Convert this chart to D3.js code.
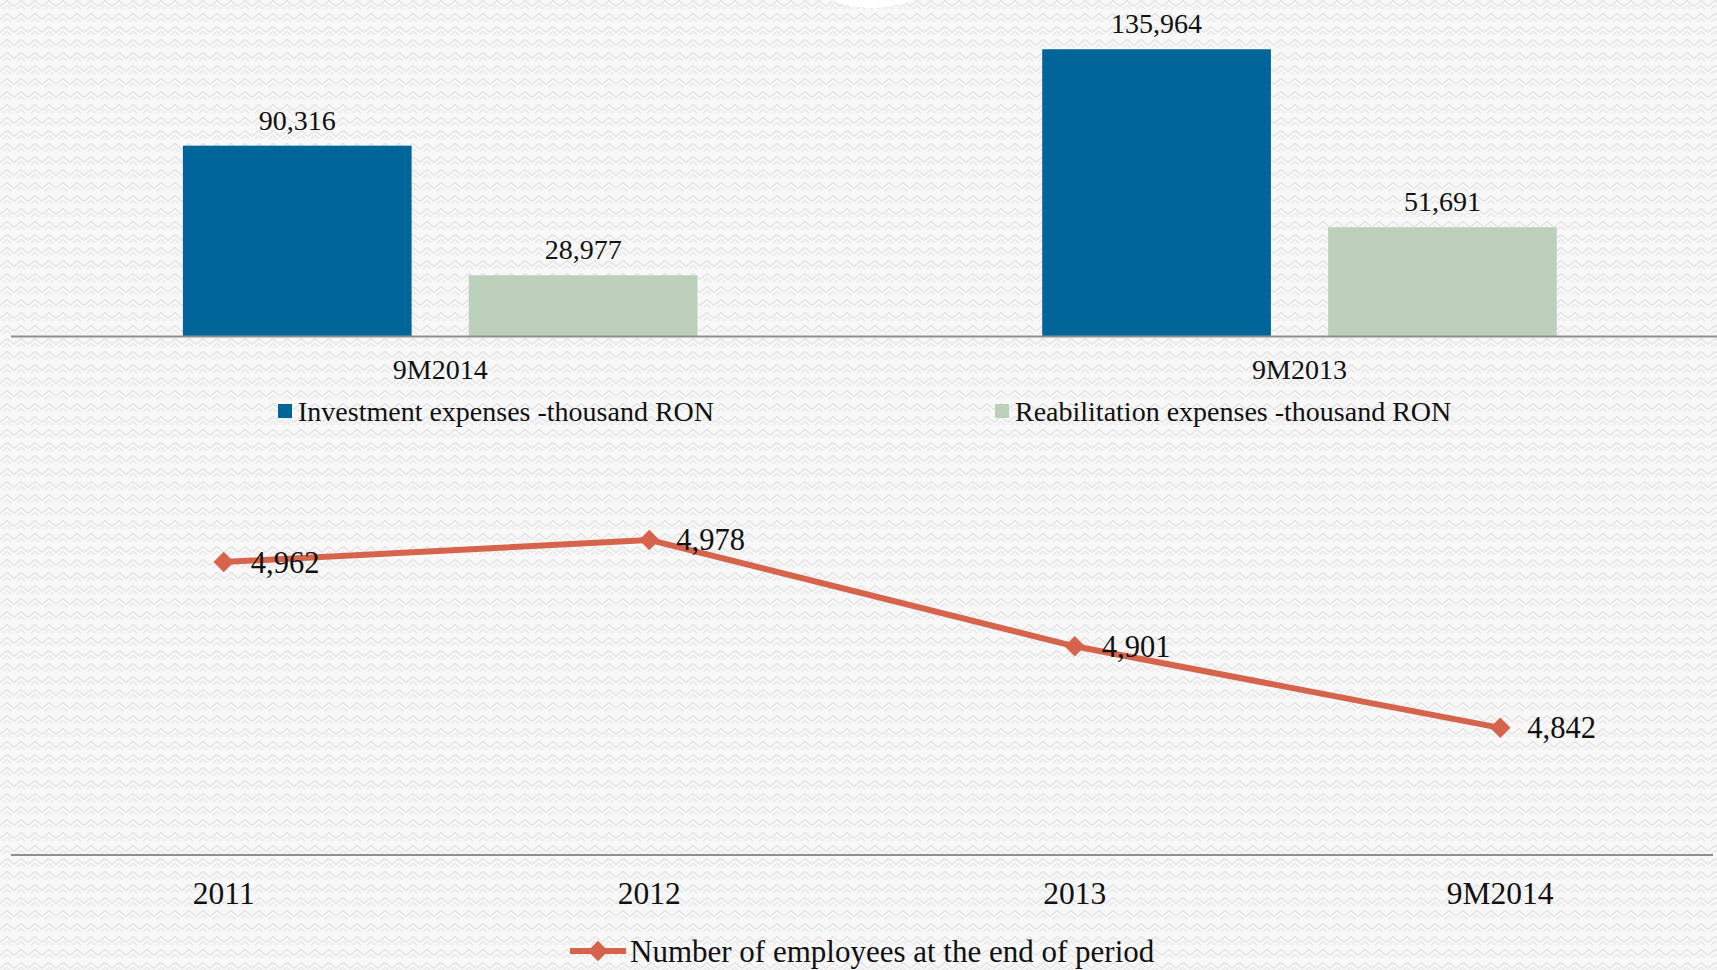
<!DOCTYPE html>
<html>
<head>
<meta charset="utf-8">
<script src="https://cdn.jsdelivr.net/npm/d3@7"></script>
<style>
  html, body { margin: 0; padding: 0; background: #f4f4f4; }
  svg { display: block; font-family: "Liberation Serif", serif; }
</style>
</head>
<body>
<svg id="chart" width="1717" height="970"></svg>
<script>
// bar chart data
const barGroups = ['9M2014', '9M2013'];
const barSeries = ['Investment expenses -thousand RON', 'Reabilitation expenses -thousand RON'];
const investment = [90316, 135964];
const reabilitation = [28977, 51691];

// line chart data
const periods = ['2011', '2012', '2013', '9M2014'];
const employees = [4962, 4978, 4901, 4842];
const lineName = 'Number of employees at the end of period';

const COLORS = { inv: '#006699', reab: '#bdd0bb', line: '#d6634b', axis: '#8e8e8e', text: '#111' };
const fmt = d3.format(',');

const W = 1717, H = 970;
const svg = d3.select('#chart');

/* background pattern */
const defs = svg.append('defs');
const pat = defs.append('pattern').attr('id', 'bgpat').attr('patternUnits', 'userSpaceOnUse')
  .attr('width', 14).attr('height', 13);
pat.append('rect').attr('width', 14).attr('height', 13).attr('fill', '#f8f8f8');
pat.append('path').attr('d', 'M0,6.5 L7,0.5 L14,6.5').attr('fill', 'none').attr('stroke', '#e5e5e5').attr('stroke-width', 1.5);
pat.append('path').attr('d', 'M3,9 L7,5.3 L11,9').attr('fill', 'none').attr('stroke', '#e8e8e8').attr('stroke-width', 1.3);
svg.append('rect').attr('width', W).attr('height', H).attr('fill', 'url(#bgpat)');
svg.append('circle').attr('cx', 872).attr('cy', -104).attr('r', 112).attr('fill', '#fff');

/* ─── Bar chart ─── */
const x0 = d3.scaleBand().domain(barGroups).range([10.6, 1729.2]);
const x1 = d3.scaleBand().domain(barSeries).range([172.3, 686.9]).paddingInner(0.2);
const yBar = d3.scaleLinear().domain([0, 140000]).range([336.5, 40.7]);

const barRows = barGroups.map((g, i) => ({ group: g, values: [
  { key: barSeries[0], v: investment[i], color: COLORS.inv },
  { key: barSeries[1], v: reabilitation[i], color: COLORS.reab },
]}));

const bg = svg.append('g');
const grp = bg.selectAll('g.grp').data(barRows).join('g')
  .attr('transform', d => `translate(${x0(d.group)},0)`);
grp.selectAll('rect').data(d => d.values).join('rect')
  .attr('x', d => x1(d.key)).attr('width', x1.bandwidth())
  .attr('y', d => yBar(d.v)).attr('height', d => yBar(0) - yBar(d.v))
  .attr('fill', d => d.color);
grp.selectAll('text.val').data(d => d.values).join('text').attr('class', 'val')
  .attr('x', d => x1(d.key) + x1.bandwidth() / 2).attr('y', d => yBar(d.v) - 16)
  .attr('text-anchor', 'middle').attr('font-size', 28).attr('fill', COLORS.text)
  .text(d => fmt(d.v));

bg.append('line').attr('x1', 11).attr('x2', W).attr('y1', yBar(0)).attr('y2', yBar(0))
  .attr('stroke', COLORS.axis).attr('stroke-width', 2);
bg.selectAll('text.cat').data(barGroups).join('text').attr('class', 'cat')
  .attr('x', d => x0(d) + x0.bandwidth() / 2).attr('y', 379)
  .attr('text-anchor', 'middle').attr('font-size', 28).attr('fill', COLORS.text).text(d => d);

// bar legend
const barLegendX = [278, 995];
const bl = bg.selectAll('g.leg').data(barSeries).join('g').attr('class', 'leg')
  .attr('transform', (d, i) => `translate(${barLegendX[i]},404)`);
bl.append('rect').attr('width', 14).attr('height', 14).attr('fill', (d, i) => i === 0 ? COLORS.inv : COLORS.reab);
bl.append('text').attr('x', 20).attr('y', 16.5).attr('font-size', 28).attr('fill', COLORS.text).text(d => d);

/* ─── Line chart ─── */
const xLine = d3.scalePoint().domain(periods).range([11, 1713]).padding(0.5);
const yLine = d3.scaleLinear().domain([4750, 5050]).range([855, 440.4]);
const pts = periods.map((p, i) => ({ p, v: employees[i] }));

const lg = svg.append('g');
lg.append('line').attr('x1', 11).attr('x2', 1713).attr('y1', yLine(4750)).attr('y2', yLine(4750))
  .attr('stroke', COLORS.axis).attr('stroke-width', 2);
lg.selectAll('text.cat').data(periods).join('text').attr('class', 'cat')
  .attr('x', d => xLine(d)).attr('y', 904)
  .attr('text-anchor', 'middle').attr('font-size', 31.5).attr('fill', COLORS.text).text(d => d);

lg.append('path').datum(pts)
  .attr('d', d3.line().x(d => xLine(d.p)).y(d => yLine(d.v)))
  .attr('fill', 'none').attr('stroke', COLORS.line).attr('stroke-width', 6).attr('stroke-linejoin', 'round');

const diamond = d3.symbol().type(d3.symbolSquare).size(210);
lg.selectAll('path.mk').data(pts).join('path').attr('class', 'mk')
  .attr('d', diamond)
  .attr('transform', d => `translate(${xLine(d.p)},${yLine(d.v)}) rotate(45)`)
  .attr('fill', COLORS.line);
lg.selectAll('text.val').data(pts).join('text').attr('class', 'val')
  .attr('x', d => xLine(d.p) + 27).attr('y', d => yLine(d.v) + 10.5)
  .attr('font-size', 30.5).attr('fill', COLORS.text).text(d => fmt(d.v));

// line legend
const ll = lg.append('g').attr('transform', 'translate(570,951)');
ll.append('line').attr('x1', 0).attr('x2', 56).attr('stroke', COLORS.line).attr('stroke-width', 6);
ll.append('path').attr('d', diamond).attr('transform', 'translate(28,0) rotate(45)').attr('fill', COLORS.line);
ll.append('text').attr('x', 60).attr('y', 10.5).attr('font-size', 31).attr('fill', COLORS.text).text(lineName);
</script>
</body>
</html>
